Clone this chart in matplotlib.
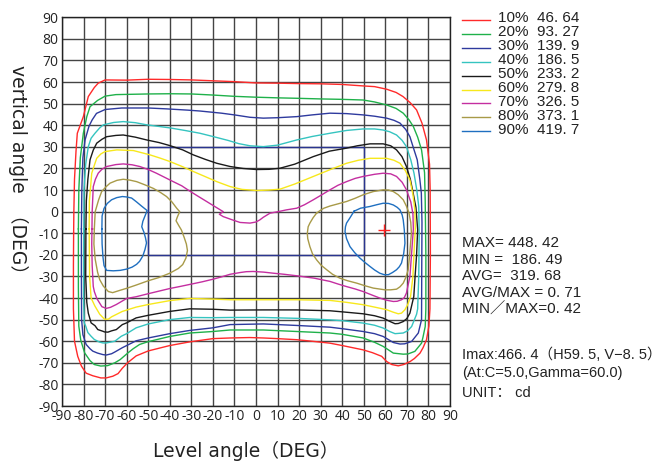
import numpy as np
import matplotlib
matplotlib.use('Agg')
import matplotlib.pyplot as plt
from matplotlib.lines import Line2D
from matplotlib.patches import Rectangle

plt.rcParams['axes.unicode_minus'] = False

# iso-candela levels
percents = [10, 20, 30, 40, 50, 60, 70, 80, 90]
level_vals = [46.64, 93.27, 139.9, 186.5, 233.2, 279.8, 326.5, 373.1, 419.7]
colors = ['#ff2a2a', '#1fb14a', '#2e3a9e', '#35c4c0', '#1a1a1a',
          '#f7e81c', '#c42ea0', '#a89a48', '#1f6fc0']

# contour outlines (H deg, V deg)
iso10 = [(-84.6, -10), (-84.5, 0), (-84.2, 15), (-83.5, 28), (-82.9, 36.3), (-80.1, 44), (-77.8, 53.3),
         (-75, 57.5), (-73.2, 59.5), (-70, 61), (-60, 60.9), (-50, 61.3), (-40, 61.2), (-30, 61),
         (-20, 60.6), (-10, 60.2), (0, 59.6), (10, 59.5), (20, 59.3), (30, 59.2), (40, 58.9), (50, 58.2),
         (55, 57.9), (60.6, 56.7), (65, 55.2), (68.2, 53.3), (71.5, 50.5), (74.5, 47.1), (77, 41),
         (79.1, 33.2), (80.5, 22), (80.8, 10), (80.9, -20), (80.7, -45), (80.2, -53), (79.1, -59.3),
         (77.5, -63), (76.1, -65.5), (73.5, -68), (71.5, -69.4), (68.5, -70.8), (66, -71.4), (63, -70.8),
         (60.6, -69.4), (58.3, -67), (54, -65.3), (49.7, -64), (40, -62), (34.3, -60.9), (25, -59.9),
         (18.9, -59.3), (10, -58.8), (3.4, -58.5), (-3, -58.3), (-12, -58.5), (-20, -58.8), (-30.7, -60.3),
         (-40, -62), (-50, -64.5), (-55.6, -66.8), (-59.6, -70), (-62, -72.5), (-64, -75), (-66.4, -76.2),
         (-69.5, -77), (-72, -77), (-75.7, -76), (-78.8, -74.8), (-81, -71.5), (-82.7, -67), (-84.2, -60),
         (-84.7, -45), (-84.7, -25)]
iso20 = [(-82.4, -8), (-82.2, 10), (-81.5, 25), (-80.1, 36.3), (-78.5, 44), (-77, 48.6), (-73.5, 51.5),
         (-70, 53.5), (-65, 54.2), (-60, 54.3), (-50, 54.5), (-40, 54.6), (-30, 54.5), (-20, 54),
         (-10, 53.4), (0, 53), (10, 52.7), (18.9, 52.5), (30, 52.2), (40, 52), (49.7, 51.7), (55, 50.8),
         (60.6, 49.4), (65, 47.8), (68.3, 45.6), (71, 42.5), (73, 39.4), (75, 34.5), (76.8, 28.6),
         (78.2, 18), (78.5, 5), (78.8, -20), (78.8, -45), (78.5, -53.2), (77.5, -58), (76.8, -60.9),
         (73.7, -64.7), (70.5, -65.9), (68.3, -66), (63.7, -65.5), (59, -62.4), (55, -60.5), (49.7, -58.5),
         (40, -56.8), (34.3, -56.2), (18.9, -55.5), (3.4, -54.8), (-12, -54.8), (-20, -55.5), (-30.7, -56.2),
         (-40, -57.8), (-50, -60.2), (-54, -61.5), (-57, -63.5), (-59.4, -65.4), (-63, -68.5), (-65.5, -70),
         (-68.8, -71.3), (-72, -71.5), (-75, -70.8), (-77, -69), (-79.5, -65.4), (-81.3, -59.5),
         (-82.2, -53), (-82.4, -35)]
iso30 = [(-81, -8), (-80.8, 10), (-80.3, 25), (-79.3, 33.2), (-77.5, 39.5), (-76, 42.5), (-74, 45.5),
         (-70, 47.3), (-62.3, 48), (-50, 48), (-41.6, 47.6), (-31.5, 47), (-26, 46.6), (-16, 45.6),
         (-10, 44.8), (-2.8, 43.7), (3.4, 43.3), (10, 43.5), (18.9, 44), (26, 44.8), (34.3, 45.6),
         (42, 45.4), (49.7, 44.8), (55, 44.2), (60.6, 43.3), (64, 42.3), (66.8, 41), (69.5, 38),
         (71.4, 34.7), (73.2, 29), (74.8, 24), (76, 15), (76.7, 8.6), (77, -5), (76.9, -25), (76.8, -50),
         (75.3, -56.2), (72.2, -60.1), (69, -61.2), (66.8, -61.3), (63.7, -60.6), (59, -57.8), (55, -56.5),
         (49.7, -55.5), (40, -54.2), (34.3, -53.5), (18.9, -52.7), (3.4, -52), (-12, -52.3), (-20, -53.8),
         (-30.7, -55), (-40, -56.5), (-50, -58.5), (-55.6, -59.8), (-60, -62), (-62, -63), (-65.5, -65),
         (-67, -65.8), (-69.5, -66.4), (-71, -66.2), (-73.5, -65.5), (-75.7, -64.6), (-77, -63.5),
         (-78.8, -61.5), (-80.3, -57), (-80.9, -50), (-81, -30)]
iso40 = [(-79.9, -8), (-79.8, 10), (-79, 22), (-77.8, 30.1), (-76.5, 34), (-74.7, 36.3), (-72.5, 38.8),
         (-70.8, 40.2), (-66, 41.3), (-61.6, 41.7), (-56, 41.2), (-50.7, 40.2), (-40, 38.8), (-33, 37.6),
         (-26, 36.3), (-20, 34.8), (-13, 33), (-8, 31.5), (-2.8, 30.5), (3.4, 30.1), (10, 30.8),
         (18.9, 33.2), (26, 34.8), (34.3, 36.3), (42, 37.6), (49.7, 38.3), (55, 38.3), (59, 37.8),
         (62, 37), (65.2, 35.5), (67.8, 33), (69.8, 30.1), (71.8, 24), (73.3, 17.8), (74.6, 10),
         (75.5, 2.4), (75.7, -10), (75.5, -30), (75, -45), (74.5, -47.5), (72.2, -53.2), (70.3, -55.2),
         (68.3, -56.2), (64.5, -56.5), (62, -55.5), (59, -53.9), (55, -52.6), (49.7, -51.6), (40, -50.5),
         (34.3, -50.1), (18.9, -49.4), (3.4, -49), (-12, -49), (-20, -49.1), (-30.7, -49), (-40, -50),
         (-50, -52), (-55.6, -53.8), (-60, -56.5), (-62.5, -57.7), (-65.5, -60), (-67.9, -60.5),
         (-69.5, -60.8), (-71, -60.8), (-72.6, -60.4), (-75, -59.2), (-76.5, -57.7), (-78, -56),
         (-79, -53), (-79.7, -51.5), (-80, -40), (-80, -20)]
iso50 = [(-78.9, -8), (-78.7, 5), (-78, 15), (-77, 24), (-75.5, 28.5), (-73.9, 31.7), (-71.5, 33.5),
         (-69.3, 34.7), (-65, 35.3), (-61.6, 35.5), (-56, 34.5), (-50.7, 33.2), (-45, 32), (-40, 30.6),
         (-34, 28.6), (-29.1, 26.3), (-23.5, 24.2), (-18.2, 22.4), (-12, 20.9), (-6, 20), (0.3, 19.5),
         (6, 19.6), (11.1, 20.1), (18, 22), (26.6, 25.5), (34, 28), (42, 29.4), (47, 30.5), (52.9, 31.4),
         (59, 31.4), (62.5, 30.5), (65.2, 28.6), (67.7, 25.5), (69.8, 20.9), (71.6, 15), (72.9, 8.6),
         (74.2, 2), (75, -8.4), (74.5, -20), (73.8, -30), (73.2, -39.3), (71.4, -47), (70, -49.5),
         (68.3, -50.9), (66, -51.8), (64.5, -51.9), (62, -50.8), (59, -49.3), (55, -48.2), (49.7, -47.3),
         (40, -46.4), (34.3, -45.9), (18.9, -45.5), (3.4, -45.5), (-12, -45.6), (-20, -45.2),
         (-30.7, -45), (-40, -46.2), (-50, -48), (-55.6, -49.2), (-60, -51.5), (-62, -52.3),
         (-64.8, -54.6), (-67, -55.2), (-68.7, -55.8), (-70.3, -55.7), (-71, -55.4), (-73.4, -54.6),
         (-74.7, -52.8), (-76.5, -51.5), (-77.8, -47), (-78.5, -42), (-79, -30)]
iso60 = [(-77.4, -8), (-77.3, 5), (-76.2, 17.8), (-75, 21.5), (-73.9, 24.7), (-72, 26.7), (-70.1, 27.8),
         (-64.6, 28.6), (-56.9, 28.3), (-49.2, 26.3), (-44.5, 24.8), (-39.9, 23.2), (-34.5, 21),
         (-29.1, 18.6), (-23.5, 16.2), (-18.2, 13.9), (-12, 11.6), (-6.5, 10.3), (0.3, 9.8), (6, 10),
         (11.1, 10.4), (18, 12.8), (26.6, 16.3), (34.5, 19.5), (42, 22.4), (47.5, 23.8), (52.9, 24.7),
         (60.6, 24.7), (64, 23.8), (66.8, 22.4), (69.3, 19), (71.4, 14.7), (72.8, 8), (73.7, 1),
         (73.9, -8), (73.5, -15), (72.8, -30), (71.7, -39.3), (70.4, -43), (69.1, -45.4), (67.5, -47),
         (66, -47.3), (63.5, -46.5), (60.6, -45.4), (55, -44.2), (49.7, -43.1), (42, -42), (34.3, -41.1),
         (18.9, -40.8), (3.4, -40.8), (-12, -40.8), (-20, -40.5), (-30.7, -40.2), (-40, -41.2),
         (-50, -43), (-55.6, -44.2), (-62, -46.2), (-67, -48.7), (-68.5, -49.8), (-70.3, -49.8),
         (-72.5, -47.5), (-74.8, -43.6), (-76.5, -40), (-77.2, -30)]
iso70 = [(-76.1, -8), (-76, 0), (-75.5, 11.6), (-74.5, 15), (-73.2, 17.8), (-71.5, 19.6), (-69.3, 20.9),
         (-65, 21.8), (-61.6, 22.1), (-57.5, 21.7), (-53.9, 20.9), (-50, 19.5), (-46.2, 17.8),
         (-42, 15.7), (-38.4, 13.9), (-34.5, 12), (-30.7, 9.5), (-27, 7.2), (-22.9, 4.7), (-19, 2.3),
         (-15.2, 0), (-17, -1.2), (-15.2, -2.3), (-11, -3.8), (-7.4, -5), (-2.8, -5.3), (0, -4.8),
         (1.8, -3.8), (3.4, -2.6), (6.5, -0.7), (10.3, 0), (14, 0.8), (18.9, 1.6), (22.5, 3.2),
         (26.6, 5.5), (30.5, 7.8), (34.3, 10.1), (38, 12.2), (42, 13.9), (46, 15.4), (49.7, 16.3),
         (55, 17.3), (59, 17.8), (62.5, 17.5), (65.2, 16.3), (67.8, 13.6), (69.8, 10.1), (71.8, 4.5),
         (72.8, -1), (73, -8), (72.5, -15), (71.4, -30), (69.8, -37.7), (68.8, -39.8), (67.5, -40.8),
         (65.5, -41.5), (63.7, -41.6), (60.5, -41), (57.4, -40), (53.5, -38.5), (49.7, -37), (46, -35.8),
         (42, -34.7), (38, -33.5), (34.3, -32.3), (27, -30.8), (18.9, -29.7), (13, -29), (8, -28.5),
         (3.5, -28), (-1.3, -27.7), (-4.5, -27.8), (-7.4, -28.2), (-12, -29), (-16, -30.2), (-20, -31.3),
         (-25, -32.5), (-30.7, -33.7), (-35, -34.6), (-40, -35.6), (-45, -36.8), (-50, -38),
         (-55.6, -39.4), (-60, -40.2), (-64.8, -43), (-67.5, -44.3), (-69.5, -44.8), (-71.5, -44),
         (-73.8, -40.3), (-75, -37), (-75.5, -34.6), (-76, -25), (-76.2, -15)]
iso80_l = [(-75, -8), (-74.6, 0), (-73.9, 2.4), (-73, 5.5), (-71.6, 9.3), (-69.5, 11.6), (-67.7, 13.2),
           (-64.5, 14.5), (-61.6, 15), (-58.5, 14.6), (-55.4, 13.9), (-51.5, 12.4), (-47.7, 10.8),
           (-44.5, 9), (-41.5, 7), (-39, 4.5), (-36.8, 1.6), (-35.4, 0), (-36.5, -2.5), (-37.1, -4.2),
           (-35.8, -6.5), (-34.6, -8.5), (-33.3, -12), (-32.3, -15), (-31.8, -18), (-32.5, -21.5),
           (-34, -24.5), (-36, -26.3), (-40, -28.5), (-45, -30.5), (-50, -32), (-55.6, -34), (-60, -35.5),
           (-63, -36.4), (-66.5, -37.5), (-68.5, -37), (-70.8, -34.5), (-72.5, -31.5), (-73.5, -28),
           (-74.6, -22), (-75.2, -15)]
iso80_r = [(28.1, -0.7), (29.7, 0.5), (31.5, 1.6), (34.3, 2.6), (38, 3.6), (42, 4.7), (46, 6.2),
           (49.7, 7.8), (54.4, 9.3), (59, 10.1), (61.5, 10), (63.7, 9.3), (66, 7.8), (68.3, 5.5),
           (69.8, 2.5), (71, -0.7), (71.8, -5), (72.1, -10), (71.7, -14.6), (71.2, -21), (70.6, -26.9),
           (69.5, -30.5), (68.3, -33.1), (66.8, -34.8), (65.2, -35.9), (62.5, -36.2), (59.8, -36.2),
           (54.4, -35.4), (50.5, -34.3), (46.7, -33.1), (42.5, -32), (38.9, -30.8), (35.5, -29),
           (32.8, -26.9), (30.2, -24.8), (28.1, -22.3), (26.2, -19.5), (25, -16.2), (24, -12.5),
           (23.8, -10), (24.2, -7), (25, -5.3), (26.5, -2.8)]
iso90_l = [(-71.5, -8), (-71.4, -2), (-70.5, 1.5), (-69, 3.8), (-67, 5.5), (-64.6, 6.5), (-62, 7),
           (-60, 6.8), (-57.7, 6.3), (-55.4, 4.5), (-53, 2.5), (-50.5, 0.5), (-51.5, -2), (-52.5, -4.5),
           (-53, -7), (-52, -9.5), (-51.3, -12), (-50.8, -14.5), (-51.5, -17.5), (-52.5, -20.5),
           (-54, -23), (-55.4, -24.4), (-57.5, -25.7), (-60, -26.6), (-63, -27.2), (-66.2, -27.4),
           (-69.3, -27.2), (-70.5, -25), (-71, -21), (-71.4, -15)]
iso90_r = [(45.5, 0.2), (48.5, 1.6), (52.9, 2.4), (56, 3.2), (59, 3.9), (61.5, 3.8), (63.7, 3.1),
           (65.5, 2), (66.8, 0.8), (67.8, -1.5), (68.3, -3.8), (68.8, -8.4), (69.1, -14.6), (68.5, -19.5),
           (67.5, -23.8), (66.5, -25.5), (65.2, -26.9), (63.3, -28.2), (61.4, -29.2), (59.5, -29.2),
           (57.4, -28.5), (55, -27), (52.9, -25.4), (50.5, -23.5), (48.2, -21.5), (45.8, -19),
           (43.6, -16.2), (42, -12.5), (41.3, -9.2), (41.5, -7), (42, -5.3), (43.5, -3)]

loops = [[iso10], [iso20], [iso30], [iso40], [iso50], [iso60], [iso70],
         [iso80_l, iso80_r], [iso90_l, iso90_r]]

# test zone and peak
zone_h = (-50, 50)
zone_v = (-20, 30)
peak_h, peak_v = 59.5, -8.5

stats_lines = ['MAX= 448. 42', 'MIN =  186. 49', 'AVG=  319. 68', 'AVG/MAX = 0. 71', 'MIN／MAX=0. 42']
info_lines = ['Imax:466. 4（H59. 5, V−8. 5）', '(At:C=5.0,Gamma=60.0)', 'UNIT： cd']

side_font = ['Liberation Sans', 'Noto Sans CJK SC']
lab_font = ['DejaVu Sans', 'Noto Sans CJK SC']

W, H = 662, 463
fig = plt.figure(figsize=(W/100., H/100.), dpi=100)
ax = fig.add_axes([62./W, 1-406./H, 388./W, 388.7/H])

ticks = np.arange(-90, 91, 10)
ax.set_xlim(-90, 90)
ax.set_ylim(-90, 90)
ax.set_xticks(ticks)
ax.set_yticks(ticks)
ax.grid(True, color='#444444', lw=1.0)
ax.set_axisbelow(True)
ax.tick_params(length=0, pad=2.5, labelsize=10, labelcolor='#222222')
for lab in ax.get_xticklabels() + ax.get_yticklabels():
    lab.set_family('Open Sans')
for sp in ax.spines.values():
    sp.set_color('#222222')
    sp.set_linewidth(1.0)

ax.add_patch(Rectangle((zone_h[0], zone_v[0]), zone_h[1]-zone_h[0], zone_v[1]-zone_v[0],
                       fill=False, ec='#2a3590', lw=1.0, zorder=2))

for c, lp in zip(colors, loops):
    for pts in lp:
        p = np.array(pts + [pts[0]])
        ax.plot(p[:, 0], p[:, 1], color=c, lw=1.0, zorder=3)

ax.plot([peak_h], [peak_v], marker='+', color='#ff2020', ms=8, mew=1.0, zorder=4)

# legend on the right
for i, (pc, v, c) in enumerate(zip(percents, level_vals, colors)):
    yl = 1 - (20.0 + 13.9*i)/H
    fig.add_artist(Line2D([462./W, 490./W], [yl, yl], color=c, lw=1.0, transform=fig.transFigure))
    fig.text(498./W, 1 - (21.7 + 14.0*i)/H, '%d%%  %s' % (pc, str(v).replace('.', '. ')),
             fontsize=11, family=side_font, color='#222222', va='baseline')

for i, s in enumerate(stats_lines):
    fig.text(461.7/W, 1 - (247.3 + 16.6*i)/H, s, fontsize=11, family=side_font,
             color='#222222', va='baseline')
for s, yb in zip(info_lines, [359.0, 376.7, 396.7]):
    fig.text(461.7/W, 1 - yb/H, s, fontsize=10.5, family=side_font, color='#222222', va='baseline')

fig.text(246./W, 1 - 456.7/H, 'Level angle（DEG）', fontsize=13.5, family=lab_font,
         color='#222222', ha='center', va='baseline')
fig.text(18.3/W, 1 - 174./H, 'vertical angle  （DEG）', fontsize=13.5, family=lab_font,
         color='#222222', ha='center', va='center', rotation=-90)

fig.savefig('out.png', dpi=100)
